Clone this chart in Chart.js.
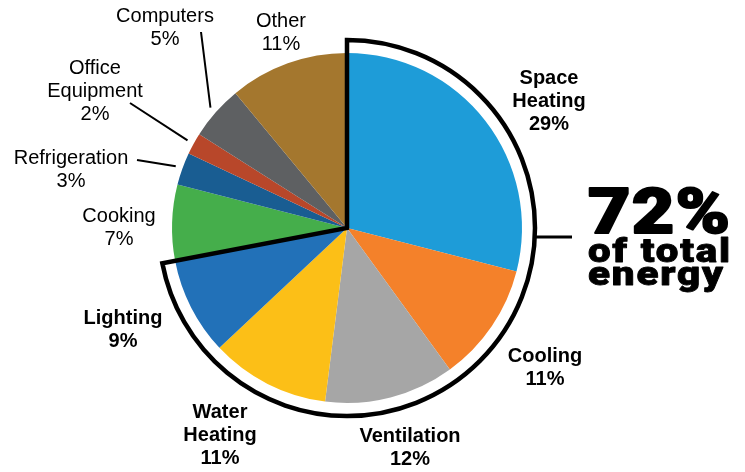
<!DOCTYPE html>
<html>
<head>
<meta charset="utf-8">
<script src="https://cdn.jsdelivr.net/npm/chart.js@4/dist/chart.umd.min.js"></script>
<style>
body { margin: 0; background: #fff; }
</style>
</head>
<body>
<canvas id="chart" width="745" height="472"></canvas>
<script>
const categories = ['Space Heating', 'Cooling', 'Ventilation', 'Water Heating', 'Lighting',
    'Cooking', 'Refrigeration', 'Office Equipment', 'Computers', 'Other'];
const shares = [29, 11, 12, 11, 9, 7, 3, 2, 5, 11];
const colors = ['#1e9cd8', '#f4812a', '#a6a6a6', '#fcbf17', '#2271b8',
    '#45ae4b', '#195d92', '#b8472a', '#5e6062', '#a4772e'];
const highlightCount = 5;
const totalCaption = ['of total', 'energy'];

// label placement: centre x, first baseline
const labelPos = [
    [549, 84], [545, 362], [410, 442], [220, 418], [123, 324],
    [119, 222], [71, 164], [95, 74], [165, 22], [281, 27]
];
// leader lines for the thin slices, outer end point
const leaders = { 6: [137, 160], 7: [130, 103], 8: [201, 32] };

// heavy display text stretched to a set width
function fitText(ctx, text, x, y, font, width, weight, spacing) {
    ctx.save();
    ctx.font = font;
    ctx.letterSpacing = spacing + 'px';
    const w = ctx.measureText(text).width - spacing;
    ctx.translate(x, y);
    ctx.scale(width / w, 1);
    ctx.textAlign = 'left';
    ctx.lineJoin = 'round';
    ctx.lineWidth = weight;
    ctx.strokeText(text, 0, 0);
    ctx.fillText(text, 0, 0);
    ctx.restore();
}

const annotations = {
    id: 'annotations',
    afterDatasetsDraw(chart) {
        const ctx = chart.ctx;
        const arcs = chart.getDatasetMeta(0).data;
        const cx = arcs[0].x, cy = arcs[0].y, r = arcs[0].outerRadius;
        const ringR = r + 13;
        ctx.save();

        // outline round the highlighted slices
        const a0 = arcs[0].startAngle;
        const a1 = arcs[highlightCount - 1].endAngle;
        ctx.beginPath();
        ctx.moveTo(cx, cy);
        ctx.lineTo(cx + ringR * Math.cos(a0), cy + ringR * Math.sin(a0));
        ctx.arc(cx, cy, ringR, a0, a1);
        ctx.closePath();
        ctx.lineWidth = 4.5;
        ctx.strokeStyle = '#000';
        ctx.lineJoin = 'miter';
        ctx.stroke();

        // connector to the big number
        ctx.beginPath();
        ctx.moveTo(cx + Math.sqrt(ringR * ringR - 81), cy + 9);
        ctx.lineTo(572, cy + 9);
        ctx.lineWidth = 3;
        ctx.stroke();

        // leader lines
        ctx.lineWidth = 2;
        Object.keys(leaders).forEach(i => {
            const a = arcs[i];
            const mid = (a.startAngle + a.endAngle) / 2;
            ctx.beginPath();
            ctx.moveTo(leaders[i][0], leaders[i][1]);
            ctx.lineTo(cx + (r + 7) * Math.cos(mid), cy + (r + 7) * Math.sin(mid));
            ctx.stroke();
        });

        // slice labels
        ctx.fillStyle = '#000';
        ctx.textAlign = 'center';
        ctx.textBaseline = 'alphabetic';
        categories.forEach((name, i) => {
            const lines = name.split(' ').concat([shares[i] + '%']);
            ctx.font = (i < highlightCount ? 'bold ' : '') + '20px "Liberation Sans", Arial, sans-serif';
            lines.forEach((t, k) => {
                ctx.fillText(t, labelPos[i][0], labelPos[i][1] + k * 23);
            });
        });

        // big total
        const total = shares.slice(0, highlightCount).reduce((s, v) => s + v, 0);
        const big = '900 {s}px Roboto, "Liberation Sans", sans-serif';
        fitText(ctx, total + '%', 588, 233, big.replace('{s}', 63), 142, 2, 1);
        fitText(ctx, totalCaption[0], 588, 262, big.replace('{s}', 33), 142, 0.8, 1.5);
        fitText(ctx, totalCaption[1], 588, 285, big.replace('{s}', 33), 135, 0.8, 1.5);

        ctx.restore();
    }
};

new Chart(document.getElementById('chart'), {
    type: 'pie',
    data: {
        labels: categories,
        datasets: [{
            data: shares,
            backgroundColor: colors,
            borderWidth: 0
        }]
    },
    options: {
        responsive: false,
        animation: false,
        layout: { padding: { left: 172, right: 223, top: 53, bottom: 69 } },
        plugins: {
            legend: { display: false },
            tooltip: { enabled: false }
        }
    },
    plugins: [annotations]
});
</script>
</body>
</html>
